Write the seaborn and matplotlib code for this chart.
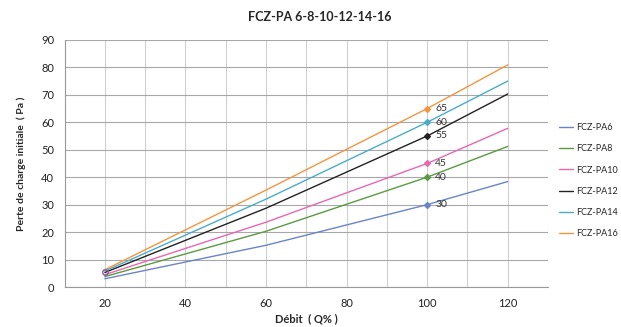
import numpy as np
import pandas as pd
import matplotlib
matplotlib.use("Agg")
import matplotlib.pyplot as plt
import seaborn as sns

sns.set_style("white")
plt.rcParams['font.family'] = ['Lato', 'DejaVu Sans']

# values
debit = [20, 60, 100, 120]
pa6 = [3.0, 15.2, 30, 38.4]
pa8 = [3.8, 20.3, 40, 51.2]
pa10 = [4.5, 23.6, 45, 57.8]
pa12 = [5.3, 28.7, 55, 70.3]
pa14 = [5.8, 32.0, 60, 75.0]
pa16 = [6.3, 35.3, 65, 80.9]
series_names = ["FCZ-PA6", "FCZ-PA8", "FCZ-PA10", "FCZ-PA12", "FCZ-PA14", "FCZ-PA16"]
colors = ["#6a84c8", "#5a9a40", "#e868b0", "#222222", "#4aacc8", "#f39540"]
label_x = 100
labels_100 = ["30", "40", "45", "55", "60", "65"]

all_vals = [pa6, pa8, pa10, pa12, pa14, pa16]
df = pd.DataFrame({
    "debit": debit * len(series_names),
    "perte": [v for s in all_vals for v in s],
    "serie": [n for n in series_names for _ in debit],
})

fig = plt.figure(figsize=(6.21, 3.27), dpi=100)
ax = fig.add_axes([0.104, 0.1223, 0.7785, 0.7557])

sns.lineplot(data=df, x="debit", y="perte", hue="serie", palette=colors,
             hue_order=series_names, linewidth=1.0, ax=ax)

# markers + labels at Q=100
for vals, c, lab in zip(all_vals, colors, labels_100):
    y = vals[debit.index(label_x)]
    ax.plot([label_x], [y], marker="D", ms=3, color=c, zorder=5)
    ax.text(label_x + 2, y, lab, fontsize=7.5, va="center", ha="left", color="#333333")
# small marker at start
ax.plot([20], [pa12[0]], marker="o", ms=4, mfc="none", mec="#8060a0", zorder=5)

ax.set_xlim(10, 130)
ax.set_ylim(0, 90)
ax.set_xticks(range(20, 121, 20))
ax.set_xticks(range(10, 131, 20), minor=True)
ax.set_yticks(range(0, 91, 10))
ax.tick_params(axis="x", which="major", length=0, labelsize=8, pad=8, colors="#222222")
ax.tick_params(axis="x", which="minor", length=4, color="#999999", direction="out")
ax.tick_params(axis="y", length=4, direction="out", labelsize=8,
               colors="#999999", labelcolor="#222222")
ax.xaxis.grid(True, which="major", color="#d0d0d0", lw=0.8)
ax.set_axisbelow(True)
for x in range(30, 131, 20):
    ax.axvline(x, color="#d0d0d0", lw=0.8, zorder=0)
ax.yaxis.grid(True, color="#a8a8a8", lw=0.8)

for s in ["top", "right"]:
    ax.spines[s].set_visible(False)
for s in ["left", "bottom"]:
    ax.spines[s].set_color("#999999")
    ax.spines[s].set_linewidth(0.8)

ax.set_xlabel("Débit  ( Q% )", fontsize=8, fontweight="bold", labelpad=3)
ax.set_ylabel("Perte de charge initiale  ( Pa )", fontsize=7.5, fontweight="bold", labelpad=11)
fig.suptitle("FCZ-PA 6-8-10-12-14-16", fontsize=9, fontweight="bold", y=0.965, x=0.515)

leg = ax.legend(loc="center left", bbox_to_anchor=(1.005, 0.43), frameon=False,
                fontsize=6.5, handlelength=1.6, labelspacing=1.35, handletextpad=0.3)
for line in leg.get_lines():
    line.set_linewidth(1.0)

fig.savefig("out.png", dpi=100, facecolor="white")
